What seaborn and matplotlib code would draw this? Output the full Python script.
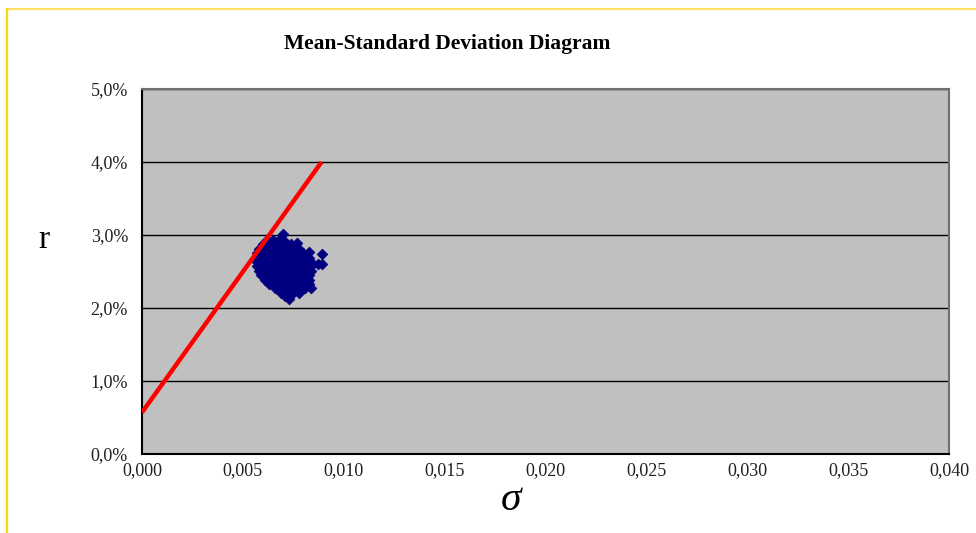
import matplotlib
matplotlib.use("Agg")
import matplotlib.pyplot as plt
import seaborn as sns
import pandas as pd
from matplotlib.ticker import FuncFormatter, MultipleLocator
from matplotlib.lines import Line2D

# ---------------- data ----------------
# capital market line (sigma, return in %)
line_sigma = [0.0, 0.0089]
line_r = [0.57, 4.0]

# portfolio cloud, read row by row (return in %, sigma values on that row)
cloud_row_r = [2.93, 2.87, 2.81, 2.75, 2.69, 2.63, 2.57, 2.51, 2.45, 2.39, 2.33, 2.27, 2.21, 2.17]
cloud_row_sigma = [
    [0.0062, 0.0065, 0.0068, 0.0070],
    [0.0060, 0.0063, 0.0066, 0.0069, 0.0072, 0.0074],
    [0.0058, 0.0061, 0.0064, 0.0067, 0.0070, 0.0073, 0.0076, 0.0078],
    [0.0057, 0.0060, 0.0063, 0.0066, 0.0069, 0.0072, 0.0075, 0.0078, 0.0080],
    [0.0057, 0.0060, 0.0063, 0.0066, 0.0069, 0.0072, 0.0075, 0.0078, 0.0081, 0.0083],
    [0.0057, 0.0060, 0.0063, 0.0066, 0.0069, 0.0072, 0.0075, 0.0078, 0.0081, 0.0084],
    [0.0057, 0.0060, 0.0063, 0.0066, 0.0069, 0.0072, 0.0075, 0.0078, 0.0081, 0.0084],
    [0.0058, 0.0061, 0.0064, 0.0067, 0.0070, 0.0073, 0.0076, 0.0079, 0.0082, 0.0084],
    [0.0059, 0.0062, 0.0065, 0.0068, 0.0071, 0.0074, 0.0077, 0.0080, 0.0083],
    [0.0061, 0.0064, 0.0067, 0.0070, 0.0073, 0.0076, 0.0079, 0.0082, 0.0083],
    [0.0063, 0.0066, 0.0069, 0.0072, 0.0075, 0.0078, 0.0081, 0.0083],
    [0.0066, 0.0069, 0.0072, 0.0075, 0.0078, 0.0081],
    [0.0069, 0.0072, 0.0075, 0.0078],
    [0.0071, 0.0073],
]
# scattered outlying portfolios
outlier_sigma = [0.0070, 0.0077, 0.0083, 0.0089, 0.0089, 0.0087, 0.0073, 0.0084]
outlier_r = [3.01, 2.89, 2.77, 2.74, 2.60, 2.60, 2.12, 2.27]

x_ticks = [0.000, 0.005, 0.010, 0.015, 0.020, 0.025, 0.030, 0.035, 0.040]
y_ticks = [0.0, 1.0, 2.0, 3.0, 4.0, 5.0]

title = "Mean-Standard Deviation Diagram"

# ---------------- build table ----------------
pts_sigma, pts_r = [], []
for r, row in zip(cloud_row_r, cloud_row_sigma):
    for s in row:
        pts_sigma.append(s)
        pts_r.append(r)
pts_sigma += outlier_sigma
pts_r += outlier_r
cloud = pd.DataFrame({"sigma": pts_sigma, "r": pts_r})
cml = pd.DataFrame({"sigma": line_sigma, "r": line_r})

# ---------------- draw ----------------
sns.set_theme(style="white")
plt.rcParams["font.family"] = ["Liberation Serif", "DejaVu Serif"]

fig = plt.figure(figsize=(9.76, 5.33), dpi=100)
ax = fig.add_axes([142 / 976, 1 - 454 / 533, (949 - 142) / 976, (454 - 89) / 533])
ax.set_facecolor("#C0C0C0")

sns.scatterplot(data=cloud, x="sigma", y="r", ax=ax, marker="D", s=30,
                color="#000080", edgecolor="#000080", linewidth=0.5, zorder=3)
sns.lineplot(data=cml, x="sigma", y="r", ax=ax, color="#FF0000", linewidth=3.2,
             zorder=4, solid_capstyle="butt")

ax.set_xlim(0, 0.040)
ax.set_ylim(0, 5.0)
ax.set_xticks(x_ticks)
ax.set_yticks(y_ticks)
ax.xaxis.set_major_formatter(FuncFormatter(lambda v, p: f"{v:.3f}".replace(".", ",")))
ax.yaxis.set_major_formatter(FuncFormatter(lambda v, p: f"{v:.1f}%".replace(".", ",")))
ax.yaxis.grid(True, color="black", linewidth=1.0)
ax.xaxis.grid(False)
ax.set_axisbelow(True)

ax.tick_params(axis="x", direction="inout", length=8, width=1, color="black",
               labelsize=13, labelcolor="#202020", pad=2)
ax.tick_params(axis="y", direction="out", length=6, width=1, color="black",
               labelsize=13, labelcolor="#202020", pad=4)
for side in ["left", "bottom"]:
    ax.spines[side].set_color("black")
    ax.spines[side].set_linewidth(1.5)
for side in ["top", "right"]:
    ax.spines[side].set_color("#707070")
    ax.spines[side].set_linewidth(1.5)

ax.set_xlabel("")
ax.set_ylabel("")
fig.text(447 / 976, 1 - 44 / 533, title, ha="center", va="center",
         fontsize=15.5, fontweight="bold", color="black")
fig.text(44 / 976, 1 - 240 / 533, "r", ha="center", va="center", fontsize=24, color="black")
fig.text(511 / 976, 1 - 500 / 533, "σ", ha="center", va="center", fontsize=30,
         style="italic", color="black")

# outer chart border (yellow, top and left)
fig.add_artist(Line2D([6.5 / 976, 1], [1 - 9 / 533, 1 - 9 / 533], transform=fig.transFigure,
                      color="#FFE066", linewidth=1.6))
fig.add_artist(Line2D([6.5 / 976, 6.5 / 976], [0, 1 - 9 / 533], transform=fig.transFigure,
                      color="#FFD700", linewidth=1.6))

fig.savefig("out.png", dpi=100, facecolor="white")
